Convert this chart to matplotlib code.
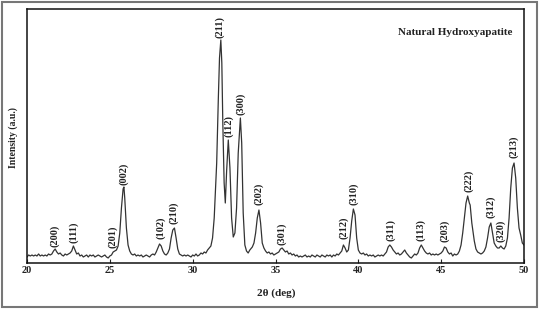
import matplotlib
matplotlib.use("Agg")
import matplotlib.pyplot as plt
from matplotlib.patches import Rectangle

# ---- data (2theta in degrees, intensity in a.u.) ----
two_theta = [
    20.0, 20.1, 20.2, 20.3, 20.4, 20.5, 20.6, 20.7, 20.8, 20.9,
    21.0, 21.1, 21.2, 21.3, 21.4, 21.5, 21.6, 21.7, 21.8, 21.9,
    22.0, 22.1, 22.2, 22.3, 22.4, 22.5, 22.6, 22.7, 22.8, 22.9,
    23.0, 23.1, 23.2, 23.3, 23.4, 23.5, 23.6, 23.7, 23.8, 23.9,
    24.0, 24.1, 24.2, 24.3, 24.4, 24.5, 24.6, 24.7, 24.8, 24.9,
    25.0, 25.1, 25.2, 25.3, 25.4, 25.5, 25.6, 25.7, 25.8, 25.85,
    25.9, 26.0, 26.1, 26.2, 26.3, 26.4, 26.5, 26.6, 26.7, 26.8,
    26.9, 27.0, 27.1, 27.2, 27.3, 27.4, 27.5, 27.6, 27.7, 27.8,
    27.9, 28.0, 28.1, 28.2, 28.3, 28.4, 28.5, 28.6, 28.7, 28.8,
    28.9, 29.0, 29.1, 29.2, 29.3, 29.4, 29.5, 29.6, 29.7, 29.8,
    29.9, 30.0, 30.1, 30.2, 30.3, 30.4, 30.5, 30.6, 30.7, 30.8,
    30.9, 31.0, 31.1, 31.2, 31.3, 31.45, 31.55, 31.62, 31.7, 31.76,
    31.82, 31.9, 31.97, 32.05, 32.15, 32.25, 32.35, 32.45, 32.55, 32.65,
    32.75, 32.88, 32.96, 33.05, 33.15, 33.25, 33.35, 33.45, 33.6, 33.7,
    33.8, 33.9, 34.0, 34.1, 34.2, 34.3, 34.4, 34.5, 34.6, 34.7,
    34.8, 34.9, 35.0, 35.1, 35.2, 35.3, 35.4, 35.5, 35.6, 35.7,
    35.8, 35.9, 36.0, 36.1, 36.2, 36.3, 36.4, 36.5, 36.6, 36.7,
    36.8, 36.9, 37.0, 37.1, 37.2, 37.3, 37.4, 37.5, 37.6, 37.7,
    37.8, 37.9, 38.0, 38.1, 38.2, 38.3, 38.4, 38.5, 38.6, 38.7,
    38.8, 38.9, 39.0, 39.1, 39.2, 39.3, 39.4, 39.5, 39.6, 39.7,
    39.8, 39.9, 40.0, 40.1, 40.2, 40.3, 40.4, 40.5, 40.6, 40.7,
    40.8, 40.9, 41.0, 41.1, 41.2, 41.3, 41.4, 41.5, 41.6, 41.7,
    41.8, 41.9, 42.0, 42.1, 42.2, 42.3, 42.4, 42.5, 42.6, 42.7,
    42.8, 42.9, 43.0, 43.1, 43.2, 43.3, 43.4, 43.5, 43.6, 43.7,
    43.8, 43.9, 44.0, 44.1, 44.2, 44.3, 44.4, 44.5, 44.6, 44.7,
    44.8, 44.9, 45.0, 45.1, 45.2, 45.3, 45.4, 45.5, 45.6, 45.7,
    45.8, 45.9, 46.0, 46.1, 46.2, 46.3, 46.4, 46.5, 46.6, 46.7,
    46.75, 46.85, 47.0, 47.1, 47.2, 47.3, 47.4, 47.5, 47.6, 47.7,
    47.8, 47.9, 48.0, 48.1, 48.2, 48.3, 48.4, 48.5, 48.6, 48.7,
    48.8, 48.9, 49.0, 49.1, 49.2, 49.3, 49.4, 49.5, 49.6, 49.7,
    49.8, 49.9, 50.0,
]
intensity = [
    6, 8, 7, 8, 7, 8, 7, 9, 7, 8,
    7, 8, 7, 9, 8, 9, 12, 14, 11, 9,
    10, 8, 7, 9, 8, 9, 10, 12, 17, 13,
    9, 10, 7, 8, 6, 7, 8, 6, 8, 7,
    8, 6, 7, 8, 7, 6, 7, 8, 6, 5,
    7, 8, 11, 12, 13, 17, 30, 55, 74, 76,
    65, 35, 18, 12, 9, 8, 9, 7, 8, 7,
    8, 6, 7, 8, 7, 6, 8, 9, 8, 11,
    15, 19, 17, 12, 9, 8, 10, 14, 25, 33,
    35, 25, 14, 9, 8, 7, 8, 7, 8, 7,
    6, 8, 7, 9, 7, 8, 10, 9, 11, 10,
    13, 15, 17, 25, 45, 100, 165, 205, 223, 200,
    140, 80, 60, 92, 123, 95, 45, 26, 30, 55,
    110, 145, 120, 50, 18, 12, 10, 13, 16, 20,
    30, 45, 53, 40, 20, 15, 12, 10, 11, 9,
    10, 8, 9, 10, 11, 14, 15, 13, 11, 12,
    9, 10, 8, 9, 7, 8, 6, 7, 6, 7,
    8, 6, 7, 6, 8, 7, 6, 8, 7, 6,
    8, 7, 6, 8, 7, 8, 6, 8, 7, 9,
    8, 10, 12, 18, 15, 11, 13, 25, 42, 54,
    48, 25, 13, 10, 9, 10, 8, 9, 7, 8,
    7, 8, 6, 7, 8, 7, 8, 7, 9, 11,
    16, 18, 16, 13, 11, 9, 10, 8, 9, 11,
    13, 10, 8, 6, 5, 7, 9, 8, 10, 15,
    18, 15, 12, 10, 9, 10, 8, 9, 8, 9,
    8, 9, 10, 12, 16, 15, 11, 9, 10, 7,
    9, 8, 9, 12, 18, 30, 45, 60, 67, 60,
    58, 40, 22, 14, 11, 10, 9, 10, 12, 16,
    25, 36, 40, 30, 20, 17, 15, 15, 17, 15,
    14, 17, 25, 45, 75, 95, 100, 85, 55, 35,
    28, 20, 18,
]

peak_labels = ["(200)", "(111)", "(201)", "(002)", "(102)", "(210)", "(211)",
               "(112)", "(300)", "(202)", "(301)", "(212)", "(310)", "(311)",
               "(113)", "(203)", "(222)", "(312)", "(320)", "(213)"]
peak_label_x = [21.69, 22.84, 25.2, 25.84, 28.07, 28.87, 31.65,
                32.2, 32.9, 33.98, 35.37, 39.13, 39.74, 41.95,
                43.78, 45.23, 46.68, 48.0, 48.61, 49.4]
peak_label_y = [16, 20, 15, 78, 24, 39, 225,
                126, 148, 58, 18, 24, 58, 22,
                22, 21, 71, 45, 21, 105]

x_ticks = [20, 25, 30, 35, 40, 45, 50]

# ---- figure ----
fig = plt.figure(figsize=(5.39, 3.09), dpi=100)
ax = fig.add_axes([27 / 539, 46 / 309, 497 / 539, 254 / 309])

serif = ["Liberation Serif", "DejaVu Serif"]

ax.plot(two_theta, intensity, color="#333333", lw=0.9)

for lab, lx, ly in zip(peak_labels, peak_label_x, peak_label_y):
    ax.text(lx, ly, lab, rotation=90, ha="center", va="bottom",
            family=serif, fontweight="bold", fontsize=7.5, color="#222222")

ax.set_xlim(20, 50)
ax.set_ylim(0, 254)
ax.set_xticks(x_ticks)
ax.set_xticklabels([str(t) for t in x_ticks], family=serif,
                   fontweight="bold", fontsize=7.5)
ax.set_yticks([])
ax.tick_params(axis="x", direction="in", length=3, width=0.8, pad=2,
               colors="#222222")
for sp in ax.spines.values():
    sp.set_linewidth(1.1)
    sp.set_color("#111111")

ax.text(0.976, 0.906, "Natural Hydroxyapatite", transform=ax.transAxes,
        ha="right", va="center", family=serif, fontweight="bold",
        fontsize=8, color="#222222")

fig.text(276 / 539, 1 - 293 / 309, "2\u03b8 (deg)", ha="center", va="center",
         family=serif, fontweight="bold", fontsize=8, color="#222222")
fig.text(13.5 / 539, 1 - 138 / 309, "Intensity (a.u.)", ha="center",
         va="center", rotation=90, family=serif, fontweight="bold",
         fontsize=7, color="#222222")

fig.patches.append(Rectangle((1.5 / 539, 2.5 / 309), 535.5 / 539, 305 / 309,
                             transform=fig.transFigure, fill=False,
                             edgecolor="#777777", linewidth=1.5))

fig.savefig("out.png", dpi=100)
